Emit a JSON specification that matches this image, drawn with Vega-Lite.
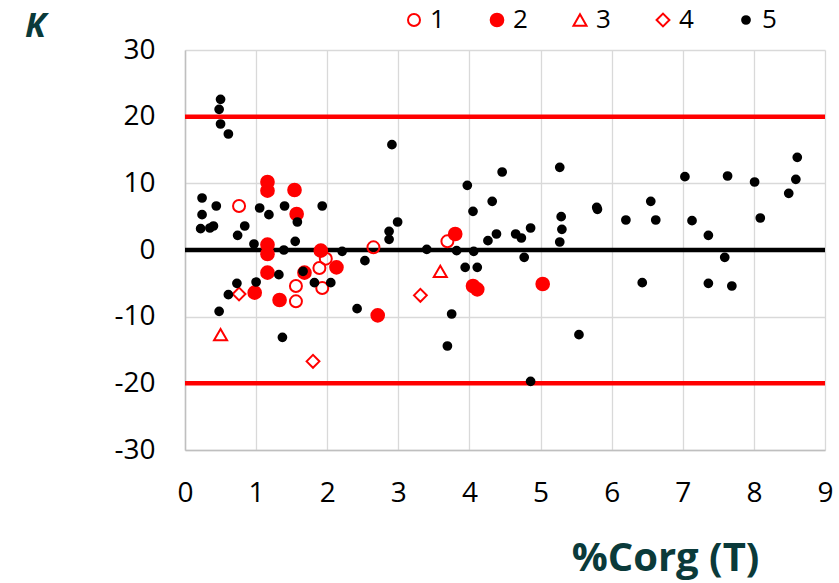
{
  "$schema": "https://vega.github.io/schema/vega-lite/v6.json",
  "width": 640,
  "height": 400,
  "autosize": {"type": "none"},
  "padding": {"left": 185, "top": 50, "right": 14, "bottom": 133},
  "background": "white",
  "config": {
    "view": {"stroke": null},
    "font": "Open Sans",
    "axis": {
      "domainColor": "#bfbfbf",
      "domainWidth": 1.5,
      "gridColor": "#d9d9d9",
      "gridWidth": 1.3,
      "ticks": false,
      "labelFont": "Open Sans",
      "labelFontSize": 28,
      "labelColor": "#000000",
      "labelFlush": false,
      "labelOverlap": false,
      "labelExpr": "datum.value < 0 ? '-' + abs(datum.value) : '' + datum.value",
      "titleFont": "Open Sans",
      "titleColor": "#0a3a3a",
      "titleFontWeight": "bold"
    },
    "legend": {
      "orient": "none",
      "legendX": 216,
      "legendY": -43,
      "direction": "horizontal",
      "title": null,
      "labelFont": "Open Sans",
      "labelFontSize": 26,
      "labelColor": "#000000",
      "symbolStrokeWidth": 2,
      "columnPadding": 39,
      "labelOffset": 3,
      "padding": 0
    }
  },
  "layer": [
    {
      "data": {"values": [
        {"y": 20, "c": "#ff0000"},
        {"y": -20, "c": "#ff0000"},
        {"y": 0, "c": "#000000"}
      ]},
      "mark": {"type": "rule", "strokeWidth": 4.5},
      "encoding": {
        "y": {"field": "y", "type": "quantitative"},
        "stroke": {"field": "c", "type": "nominal", "scale": null}
      }
    },
    {
      "data": {"values": [
        {"s": "1", "x": 0.76, "k": 6.6},
        {"s": "1", "x": 2.65, "k": 0.4},
        {"s": "1", "x": 1.98, "k": -1.3},
        {"s": "1", "x": 1.89, "k": -2.7},
        {"s": "1", "x": 1.56, "k": -5.4},
        {"s": "1", "x": 1.93, "k": -5.7},
        {"s": "1", "x": 1.56, "k": -7.7},
        {"s": "1", "x": 3.69, "k": 1.3},
        {"s": "2", "x": 1.16, "k": 10.2},
        {"s": "2", "x": 1.16, "k": 8.9},
        {"s": "2", "x": 1.54, "k": 9.0},
        {"s": "2", "x": 1.57, "k": 5.4},
        {"s": "2", "x": 1.16, "k": 0.8},
        {"s": "2", "x": 1.16, "k": -0.6},
        {"s": "2", "x": 1.91, "k": -0.1},
        {"s": "2", "x": 1.16, "k": -3.4},
        {"s": "2", "x": 2.13, "k": -2.6},
        {"s": "2", "x": 1.68, "k": -3.4},
        {"s": "2", "x": 0.98, "k": -6.4},
        {"s": "2", "x": 1.33, "k": -7.5},
        {"s": "2", "x": 2.71, "k": -9.8},
        {"s": "2", "x": 3.80, "k": 2.4},
        {"s": "2", "x": 4.05, "k": -5.4},
        {"s": "2", "x": 4.11, "k": -5.9},
        {"s": "2", "x": 5.03, "k": -5.1},
        {"s": "3", "x": 0.50, "k": -12.7},
        {"s": "3", "x": 3.59, "k": -3.2},
        {"s": "4", "x": 0.76, "k": -6.6},
        {"s": "4", "x": 1.80, "k": -16.7},
        {"s": "4", "x": 3.31, "k": -6.8},
        {"s": "5", "x": 0.50, "k": 22.6},
        {"s": "5", "x": 0.48, "k": 21.1},
        {"s": "5", "x": 0.50, "k": 18.9},
        {"s": "5", "x": 0.61, "k": 17.4},
        {"s": "5", "x": 0.24, "k": 7.8},
        {"s": "5", "x": 0.24, "k": 5.3},
        {"s": "5", "x": 0.44, "k": 6.6},
        {"s": "5", "x": 0.22, "k": 3.2},
        {"s": "5", "x": 0.35, "k": 3.3},
        {"s": "5", "x": 0.40, "k": 3.6},
        {"s": "5", "x": 0.84, "k": 3.6},
        {"s": "5", "x": 0.74, "k": 2.2},
        {"s": "5", "x": 0.97, "k": 0.9},
        {"s": "5", "x": 1.05, "k": 6.3},
        {"s": "5", "x": 1.18, "k": 5.3},
        {"s": "5", "x": 1.40, "k": 6.6},
        {"s": "5", "x": 1.58, "k": 4.2},
        {"s": "5", "x": 1.55, "k": 1.3},
        {"s": "5", "x": 1.39, "k": 0.0},
        {"s": "5", "x": 1.93, "k": 6.6},
        {"s": "5", "x": 2.21, "k": -0.2},
        {"s": "5", "x": 2.53, "k": -1.6},
        {"s": "5", "x": 1.32, "k": -3.7},
        {"s": "5", "x": 1.66, "k": -3.2},
        {"s": "5", "x": 1.82, "k": -4.9},
        {"s": "5", "x": 2.05, "k": -4.9},
        {"s": "5", "x": 0.73, "k": -5.0},
        {"s": "5", "x": 1.00, "k": -4.8},
        {"s": "5", "x": 0.61, "k": -6.7},
        {"s": "5", "x": 0.48, "k": -9.2},
        {"s": "5", "x": 1.37, "k": -13.1},
        {"s": "5", "x": 2.42, "k": -8.8},
        {"s": "5", "x": 2.91, "k": 15.8},
        {"s": "5", "x": 2.99, "k": 4.2},
        {"s": "5", "x": 2.87, "k": 2.8},
        {"s": "5", "x": 2.87, "k": 1.6},
        {"s": "5", "x": 3.40, "k": 0.1},
        {"s": "5", "x": 3.82, "k": -0.1},
        {"s": "5", "x": 4.06, "k": -0.2},
        {"s": "5", "x": 3.97, "k": 9.7},
        {"s": "5", "x": 4.05, "k": 5.8},
        {"s": "5", "x": 4.46, "k": 11.7},
        {"s": "5", "x": 4.32, "k": 7.3},
        {"s": "5", "x": 4.26, "k": 1.4},
        {"s": "5", "x": 4.38, "k": 2.4},
        {"s": "5", "x": 4.65, "k": 2.4},
        {"s": "5", "x": 4.73, "k": 1.8},
        {"s": "5", "x": 4.86, "k": 3.3},
        {"s": "5", "x": 4.77, "k": -1.1},
        {"s": "5", "x": 3.94, "k": -2.6},
        {"s": "5", "x": 4.11, "k": -2.6},
        {"s": "5", "x": 3.75, "k": -9.6},
        {"s": "5", "x": 3.69, "k": -14.4},
        {"s": "5", "x": 4.86, "k": -19.7},
        {"s": "5", "x": 5.27, "k": 12.4},
        {"s": "5", "x": 5.29, "k": 5.0},
        {"s": "5", "x": 5.30, "k": 3.1},
        {"s": "5", "x": 5.27, "k": 1.2},
        {"s": "5", "x": 5.54, "k": -12.7},
        {"s": "5", "x": 5.79, "k": 6.4},
        {"s": "5", "x": 5.80, "k": 6.1},
        {"s": "5", "x": 6.20, "k": 4.5},
        {"s": "5", "x": 6.55, "k": 7.3},
        {"s": "5", "x": 6.62, "k": 4.5},
        {"s": "5", "x": 6.43, "k": -4.9},
        {"s": "5", "x": 7.03, "k": 11.0},
        {"s": "5", "x": 7.13, "k": 4.4},
        {"s": "5", "x": 7.36, "k": 2.2},
        {"s": "5", "x": 7.36, "k": -5.0},
        {"s": "5", "x": 7.63, "k": 11.1},
        {"s": "5", "x": 7.59, "k": -1.1},
        {"s": "5", "x": 7.69, "k": -5.4},
        {"s": "5", "x": 8.01, "k": 10.2},
        {"s": "5", "x": 8.09, "k": 4.8},
        {"s": "5", "x": 8.49, "k": 8.5},
        {"s": "5", "x": 8.59, "k": 10.6},
        {"s": "5", "x": 8.61, "k": 13.9}
      ]},
      "mark": {"type": "point", "strokeWidth": 2, "opacity": 1, "fillOpacity": 1},
      "encoding": {
        "x": {
          "field": "x", "type": "quantitative",
          "scale": {"domain": [0, 9], "nice": false, "zero": false},
          "axis": {
            "values": [0, 1, 2, 3, 4, 5, 6, 7, 8, 9],
            "labelPadding": 29,
            "title": "%Corg (T)",
            "titleFontSize": 40,
            "titleX": 480,
            "titleY": 120,
            "titleAlign": "center",
            "titleBaseline": "alphabetic"
          }
        },
        "y": {
          "field": "k", "type": "quantitative",
          "scale": {"domain": [-30, 30], "nice": false},
          "axis": {
            "values": [-30, -20, -10, 0, 10, 20, 30],
            "labelPadding": 30,
            "title": "K",
            "titleAngle": 0,
            "titleFontSize": 34,
            "titleFontStyle": "italic",
            "titleX": -150,
            "titleY": -14,
            "titleAlign": "center",
            "titleBaseline": "alphabetic"
          }
        },
        "shape": {
          "field": "s", "type": "nominal",
          "scale": {"domain": ["1", "2", "3", "4", "5"], "range": ["circle", "circle", "triangle-up", "diamond", "circle"]}
        },
        "fill": {
          "field": "s", "type": "nominal",
          "scale": {"domain": ["1", "2", "3", "4", "5"], "range": ["transparent", "#ff0000", "transparent", "transparent", "#000000"]}
        },
        "stroke": {
          "field": "s", "type": "nominal",
          "scale": {"domain": ["1", "2", "3", "4", "5"], "range": ["#ff0000", "#ff0000", "#ff0000", "#ff0000", "#000000"]}
        },
        "size": {
          "field": "s", "type": "nominal",
          "scale": {"type": "ordinal", "domain": ["1", "2", "3", "4", "5"], "range": [144, 160, 170, 165, 60]}
        }
      }
    }
  ]
}
